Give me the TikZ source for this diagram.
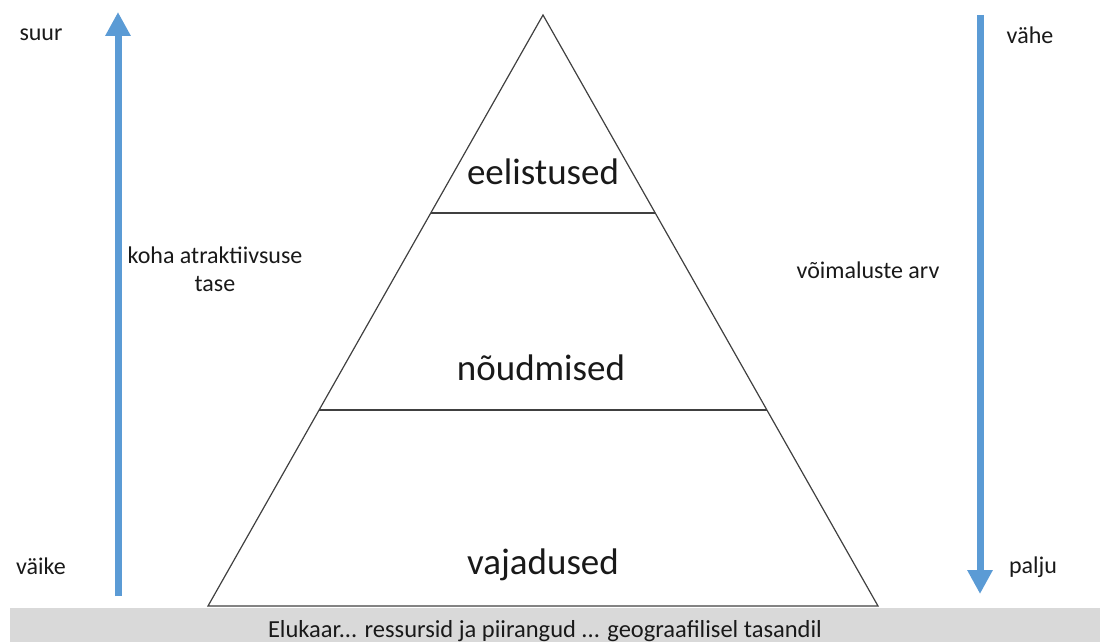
\documentclass[tikz,border=0pt]{standalone}
\usepackage{fontspec}
\setmainfont{Carlito}
\usetikzlibrary{arrows.meta}
\definecolor{arrowblue}{RGB}{91,155,213}
\definecolor{bargray}{RGB}{217,217,217}
\begin{document}
\begin{tikzpicture}[x=1pt,y=-1pt,
  lbl/.style={font=\fontsize{24}{28}\selectfont, text=black!90, inner sep=0pt},
  level/.style={font=\fontsize{37}{41}\selectfont, text=black!90, inner sep=0pt},
  bigarrow/.style={arrowblue, line width=7pt, -{Triangle[width=24pt,length=24pt]}},
  pyr/.style={draw=black!75, line width=1.2pt, line join=miter}]
\useasboundingbox (0,0) rectangle (1105,642);
% bottom bar
\fill[bargray] (10,608) rectangle (1100,642);
\node[inner sep=0pt, font=\fontsize{24.5}{28}\selectfont, text=black!90] (base) at (545,631) {Elukaar... ressursid ja piirangud ... geograafilisel tasandil};
% pyramid
\coordinate (apex) at (543,15);
\coordinate (bl) at (208,606);
\coordinate (br) at (878,606);
\draw[pyr] (apex) -- (br) -- (bl) -- cycle;
\coordinate (l1a) at (431,213);
\coordinate (l1b) at (655,213);
\coordinate (l2a) at (319,410);
\coordinate (l2b) at (767,410);
\draw[pyr] (l1a) -- (l1b);
\draw[pyr] (l2a) -- (l2b);
\node[level] (eel) at (543,172) {eelistused};
\node[level] (noud) at (541,368) {nõudmised};
\node[level] (vaj) at (543,565) {vajadused};
% arrows
\coordinate (la0) at (118,596);
\coordinate (la1) at (118,12);
\draw[bigarrow] (la0) -- (la1);
\coordinate (ra0) at (980,15);
\coordinate (ra1) at (980,594);
\draw[bigarrow] (ra0) -- (ra1);
% labels
\node[lbl] (suur) at (41,35) {suur};
\node[lbl] (vaike) at (41,566) {väike};
\node[lbl] (vahe) at (1030,35) {vähe};
\node[lbl] (palju) at (1033,567) {palju};
\node[lbl, align=center, font=\fontsize{24}{28}\selectfont] (koha) at (215,269) {koha atraktiivsuse\\tase};
\node[lbl] (voim) at (868,270) {võimaluste arv};
\end{tikzpicture}
\end{document}
